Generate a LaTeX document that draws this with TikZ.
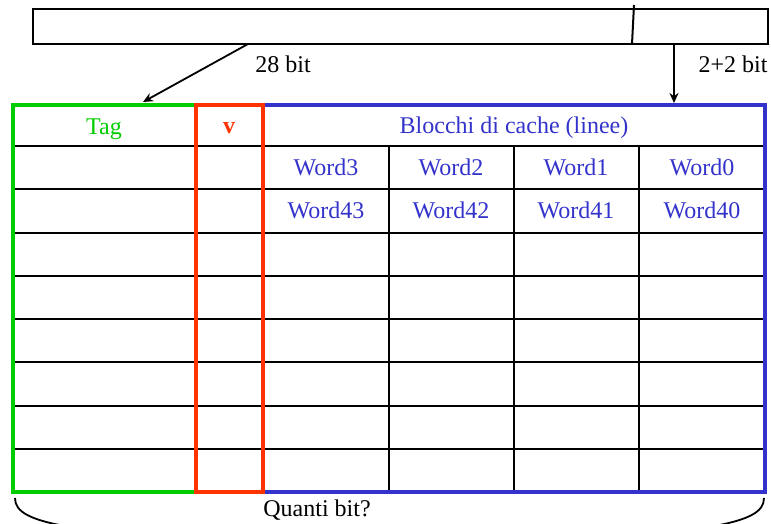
\documentclass[tikz,border=0pt]{standalone}
\usepackage{fontspec}
\setmainfont{Liberation Serif}
\usetikzlibrary{arrows.meta}

\definecolor{taggreen}{RGB}{0,204,0}
\definecolor{validred}{RGB}{255,51,0}
\definecolor{lineblue}{RGB}{51,51,204}

\begin{document}
\begin{tikzpicture}[
    x = 1pt, y = -1pt,
    every node/.style = {font = \fontsize{24}{28}\selectfont,
      inner sep = 0pt},
    grid/.style = {line width = 2pt},
    field/.style = {line width = 3.4pt},
    word/.style = {text = lineblue},
    pointer/.style = {line width = 1.8pt,
      -{Stealth[length = 10pt, width = 9pt]}}
    ]
    \useasboundingbox (0, 0) rectangle (771, 523);
    \clip (0, 0) rectangle (771, 523);

    % address
    \draw [grid] (33, 9) rectangle (768, 44);
    \draw [grid] (634, 5) -- (632, 44);
    \coordinate (tagsrc) at (248, 44);
    \coordinate (tagdst) at (143, 102);
    \coordinate (idxsrc) at (674, 45);
    \coordinate (idxdst) at (674, 103);
    \draw [pointer] (tagsrc) -- (tagdst);
    \draw [pointer] (idxsrc) -- (idxdst);
    \node at (283, 64) [name = tagbits] {28 bit};
    \node at (733, 64) [name = idxbits] {2+2 bit};

    % cache lines
    \foreach \i in {0, ..., 7}
      \draw [grid] (13, {146 + 43.25*\i}) -- (765, {146 + 43.25*\i});
    \foreach \x in {389, 514, 639}
      \draw [grid] (\x, 146) -- (\x, 492);

    \draw [field, draw = taggreen] (13, 105) rectangle (196, 492);
    \draw [field, draw = lineblue] (263, 105) rectangle (765, 492);
    \draw [field, draw = validred] (196, 105) rectangle (263, 492);

    \node at (104, 129) [name = tag, text = taggreen] {Tag};
    \node at (229, 128) [name = valid, text = validred] {\bfseries v};
    \node at (514, 128) [name = blocks, word] {Blocchi di cache (linee)};

    \node at (326, 167) [name = w3, word] {Word3};
    \node at (451, 167) [name = w2, word] {Word2};
    \node at (576, 167) [name = w1, word] {Word1};
    \node at (702, 167) [name = w0, word] {Word0};
    \node at (326, 210) [name = w43, word] {Word43};
    \node at (451, 210) [name = w42, word] {Word42};
    \node at (576, 210) [name = w41, word] {Word41};
    \node at (702, 210) [name = w40, word] {Word40};

    % brace
    \draw [line width = 1.8pt] (15, 498) .. controls (15, 512) and (30, 520)
      .. (70, 527);
    \draw [line width = 1.8pt] (764, 498) .. controls (764, 512) and (749, 520)
      .. (709, 527);
    \node at (317, 510) [name = question] {Quanti bit?};
  \end{tikzpicture}
\end{document}
